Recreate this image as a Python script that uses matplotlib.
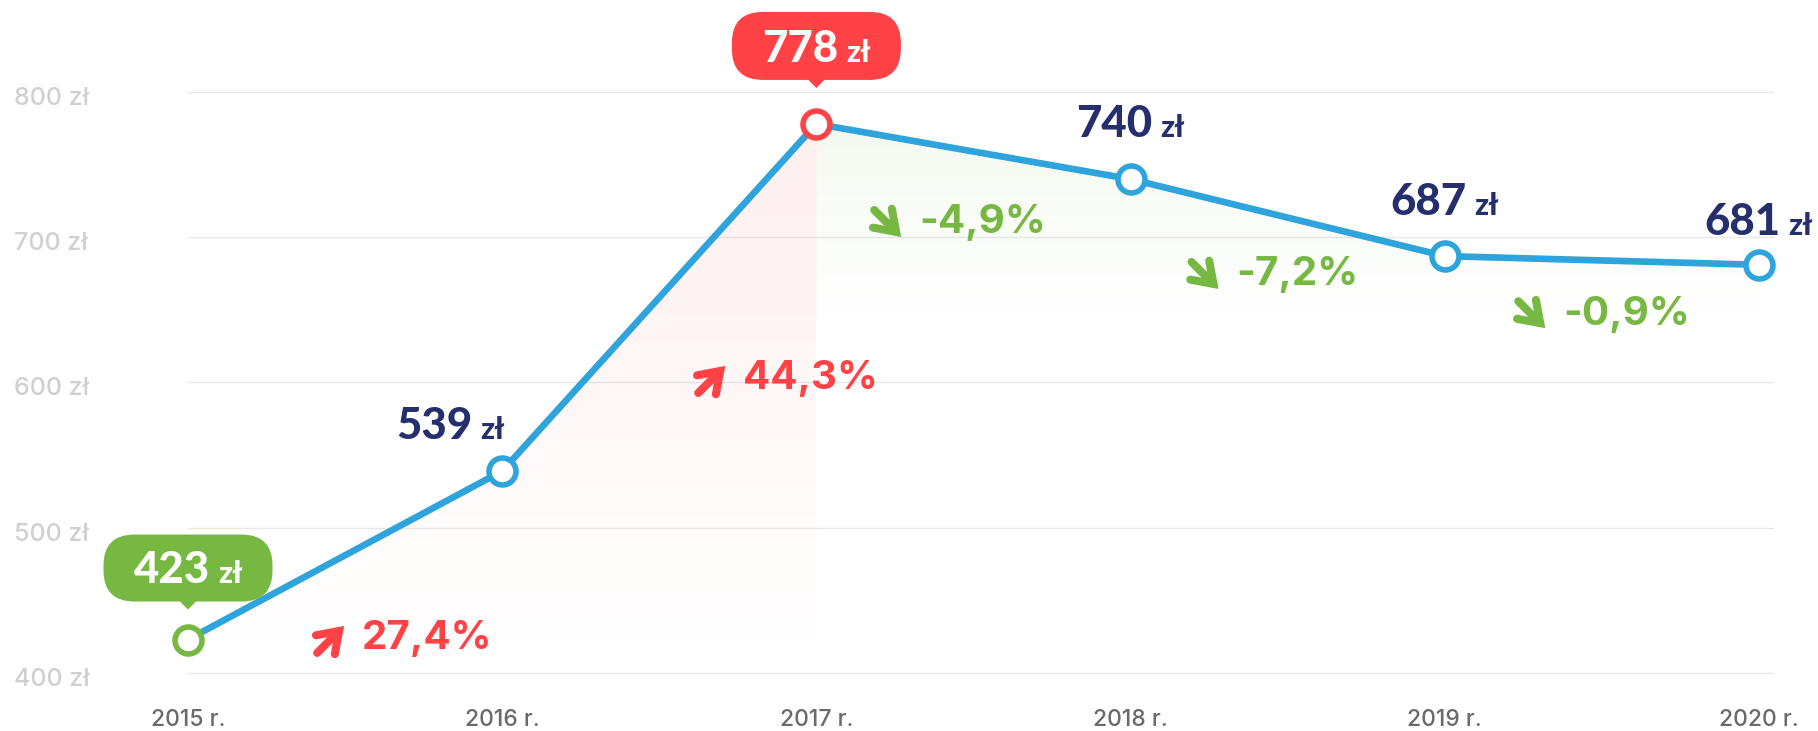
import numpy as np
import matplotlib
matplotlib.use("Agg")
import matplotlib.pyplot as plt
import matplotlib.transforms as mtransforms
from matplotlib.patches import Polygon, FancyBboxPatch
from matplotlib.colors import to_rgb

plt.rcParams['font.family'] = ['Inter', 'DejaVu Sans']

# data
years = [2015, 2016, 2017, 2018, 2019, 2020]
values = [423, 539, 778, 740, 687, 681]
xlabels = ['2015 r.', '2016 r.', '2017 r.', '2018 r.', '2019 r.', '2020 r.']
yticks = [400, 500, 600, 700, 800]
changes = ['27,4%', '44,3%', '-4,9%', '-7,2%', '-0,9%']

BLUE = '#2ea3dc'
NAVY = '#252f6e'
GREEN = '#77b843'
RED = '#ff4245'
BIG = ['Lato', 'Inter', 'DejaVu Sans']

fig = plt.figure(figsize=(18.18, 7.31), dpi=100)
ax = fig.add_axes([188 / 1818, 0.0397, 1586 / 1818, 0.8941])
ax.set_xlim(2015, 2020.048)
ax.set_ylim(380, 830)
for s in ax.spines.values():
    s.set_visible(False)


def grad_fill(xs, ys, color, alpha_top, y_bot):
    verts = [(xs[0], y_bot)] + list(zip(xs, ys)) + [(xs[-1], y_bot)]
    poly = Polygon(verts, closed=True, fc='none', ec='none')
    ax.add_patch(poly)
    n = 256
    rgba = np.zeros((n, 1, 4))
    rgba[..., :3] = to_rgb(color)
    rgba[:, 0, 3] = np.linspace(alpha_top, 0, n)
    im = ax.imshow(rgba, extent=[xs[0], xs[-1], y_bot, max(ys)], aspect='auto',
                   origin='upper', zorder=1, interpolation='bilinear')
    im.set_clip_path(poly)


grad_fill(years[:3], values[:3], RED, 0.085, 405)
grad_fill(years[2:], values[2:], GREEN, 0.08, 640)
ax.set_xlim(2015, 2020.048)
ax.set_ylim(380, 830)

# grid
for yv in yticks:
    ax.axhline(yv, color='#e8e8e8', lw=1.0, zorder=0)

ax.set_yticks([])
ax.set_xticks(years)
ax.set_xticklabels(xlabels, fontsize=16.5, color='#6a6a6a', fontweight='medium')
ax.tick_params(axis='x', length=0, pad=5)

ytrans = mtransforms.blended_transform_factory(fig.transFigure, ax.transData)
for yv in yticks:
    ax.annotate(f'{yv} zł', (14 / 1818, yv), xycoords=ytrans, xytext=(0, -13),
                textcoords='offset pixels', ha='left', va='baseline',
                fontsize=18, color='#d0d0d0', fontweight='medium',
                annotation_clip=False)

# line
ax.plot(years, values, color=BLUE, lw=4.8, zorder=3, solid_capstyle='round',
        clip_on=False)
edge_colors = [GREEN, BLUE, RED, BLUE, BLUE, BLUE]
for x, y, ec in zip(years, values, edge_colors):
    ax.plot(x, y, 'o', ms=19.4, mfc='white', mec=ec, mew=4.0, zorder=4,
            clip_on=False)

# value labels: which points get a bubble, the rest plain navy text
bubble = [GREEN, None, RED, None, None, None]
label_dx = [0, -52, 0, 0, 0, 0]
label_dy = [57, 32, 62, 42, 41, 30]
bubble_box = [(38, 105), None, (44, 112), None, None, None]

fig.canvas.draw()
renderer = fig.canvas.get_renderer()

for i, (x, y) in enumerate(zip(years, values)):
    col = 'white' if bubble[i] else NAVY
    t1 = ax.annotate(str(y), (x, y), xytext=(0, label_dy[i]), textcoords='offset pixels',
                     ha='left', va='baseline', fontsize=31.5, fontweight='black',
                     family=BIG, color=col, zorder=7, annotation_clip=False)
    t2 = ax.annotate('zł', (x, y), xytext=(0, label_dy[i]), textcoords='offset pixels',
                     ha='left', va='baseline', fontsize=22, fontweight='black',
                     family=BIG, color=col, zorder=7, annotation_clip=False)
    w1 = t1.get_window_extent(renderer).width
    w2 = t2.get_window_extent(renderer).width
    gap = 8
    left = -(w1 + gap + w2) / 2 + label_dx[i]
    t1.xyann = (left, label_dy[i])
    t2.xyann = (left + w1 + gap, label_dy[i])
    if bubble[i]:
        b0, b1 = bubble_box[i]
        tr = mtransforms.Affine2D() + mtransforms.ScaledTranslation(x, y, ax.transData)
        box = FancyBboxPatch((-84.5, b0), 169, b1 - b0,
                             boxstyle='round,pad=0,rounding_size=31',
                             fc=bubble[i], ec='none', transform=tr, zorder=6,
                             clip_on=False)
        ax.add_patch(box)
        tip = Polygon([(-9, b0 + 1), (9, b0 + 1), (0, b0 - 8)], closed=True,
                      fc=bubble[i], ec='none', transform=tr, zorder=6, clip_on=False)
        ax.add_patch(tip)

# percentage change labels (arrow tip x, label centre y)
pct_pos = [(2015.497, 423.4), (2016.71, 602.4), (2017.27, 709.8),
           (2018.28, 674.0), (2019.32, 647.0)]
for i, (txt, (px, py)) in enumerate(zip(changes, pct_pos)):
    up = values[i + 1] > values[i]
    col = RED if up else GREEN
    tr = mtransforms.offset_copy(ax.transData, fig=fig, x=0,
                                 y=(13 if up else -14), units='dots')
    ax.annotate('', xy=(px, py), xycoords=tr,
                xytext=(-27, (-27 if up else 27)), textcoords='offset pixels',
                arrowprops=dict(arrowstyle='->,head_length=0.7,head_width=0.48',
                                lw=5.8, color=col, shrinkA=0, shrinkB=0,
                                mutation_scale=20, capstyle='round',
                                joinstyle='miter'),
                annotation_clip=False, zorder=5)
    ax.annotate(txt, (px, py), xytext=(18, 0), textcoords='offset pixels',
                ha='left', va='center', fontsize=29, fontweight='bold',
                color=col, zorder=5, annotation_clip=False)

fig.savefig('out.png', dpi=100)
